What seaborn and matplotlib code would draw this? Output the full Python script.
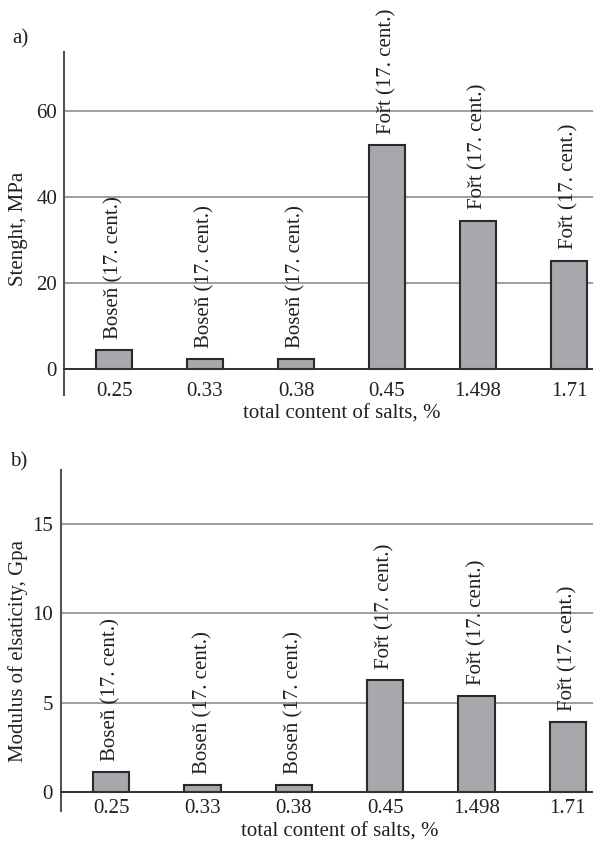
import matplotlib
matplotlib.use("Agg")
import matplotlib.pyplot as plt
import seaborn as sns
import pandas as pd

# Total content of salts (%) for each sample, in plotting order
salt_content = ["0.25", "0.33", "0.38", "0.45", "1.498", "1.71"]
# Origin of each sample
sample_labels = ["Boseň (17. cent.)", "Boseň (17. cent.)", "Boseň (17. cent.)",
                 "Fořt (17. cent.)", "Fořt (17. cent.)", "Fořt (17. cent.)"]
# a) strength, MPa
strength = [4.4, 2.25, 2.25, 52.0, 34.5, 25.2]
# b) modulus of elasticity, GPa
modulus = [1.09, 0.39, 0.36, 6.28, 5.35, 3.91]

sns.set_style("white")
plt.rcParams["font.family"] = ["Liberation Serif", "DejaVu Serif"]
plt.rcParams["text.color"] = "#231f20"
plt.rcParams["axes.labelcolor"] = "#231f20"
plt.rcParams["xtick.color"] = "#231f20"
plt.rcParams["ytick.color"] = "#231f20"

BAR = "#a7a8ac"
EDGE = "#2a2a2a"
FS = 15

W, H = 593, 843
fig = plt.figure(figsize=(W / 100, H / 100), dpi=100)


def px_rect(left, right, top, bottom):
    return [left / W, 1 - bottom / H, (right - left) / W, (bottom - top) / H]


def panel(rect, values, ylim, yticks, ylabel, ylabel_xy, xlabel_y,
          xpad, ypad, letter, letter_xy):
    ax = fig.add_axes(rect)
    df = pd.DataFrame({"salt": salt_content, "value": values})
    sns.barplot(data=df, x="salt", y="value", order=salt_content,
                color=BAR, saturation=1, width=0.4, errorbar=None,
                edgecolor=EDGE, linewidth=1.5, ax=ax)
    ax.set_xlim(-0.55, 5.55)
    ax.set_ylim(*ylim)
    ax.set_yticks(yticks)
    ax.set_axisbelow(True)
    ax.yaxis.grid(True, color="#8e8e8e", linewidth=1.2)
    ax.xaxis.grid(False)

    for side in ("top", "right"):
        ax.spines[side].set_visible(False)
    ax.spines["left"].set_color("#555555")
    ax.spines["left"].set_linewidth(1.5)
    ax.spines["bottom"].set_position(("data", 0))
    ax.spines["bottom"].set_color("#333333")
    ax.spines["bottom"].set_linewidth(1.4)
    ax.spines["bottom"].set_zorder(3)

    ax.tick_params(axis="x", length=0, pad=xpad, labelsize=FS)
    ax.tick_params(axis="y", length=0, pad=ypad, labelsize=FS)

    ax.set_xlabel("total content of salts, %", fontsize=FS, va="baseline")
    ax.xaxis.set_label_coords(0.5, xlabel_y)
    ax.set_ylabel(ylabel, fontsize=FS)
    ax.yaxis.set_label_coords(*ylabel_xy)

    for i, (v, lab) in enumerate(zip(values, sample_labels)):
        ax.annotate(lab, xy=(i, v), xytext=(0, 8), textcoords="offset points",
                    rotation=90, ha="center", va="bottom", fontsize=FS)

    fig.text(letter_xy[0] / W, 1 - letter_xy[1] / H, letter,
             fontsize=FS, va="baseline", ha="left")
    return ax


panel(px_rect(64, 619, 51.7, 395), strength, (-6.0, 73.7), [0, 20, 40, 60],
      "Stenght, MPa", (-0.065, 0.485), -0.0677, 9.5, 5.0, "a)", (12, 43.5))

panel(px_rect(61, 618, 470, 810.7), modulus, (-1.07, 18.05), [0, 5, 10, 15],
      "Modulus of elsaticity, Gpa", (-0.059, 0.469), -0.0763, 5.5, 5.8,
      "b)", (10, 466))

fig.savefig("out.png", dpi=100)
